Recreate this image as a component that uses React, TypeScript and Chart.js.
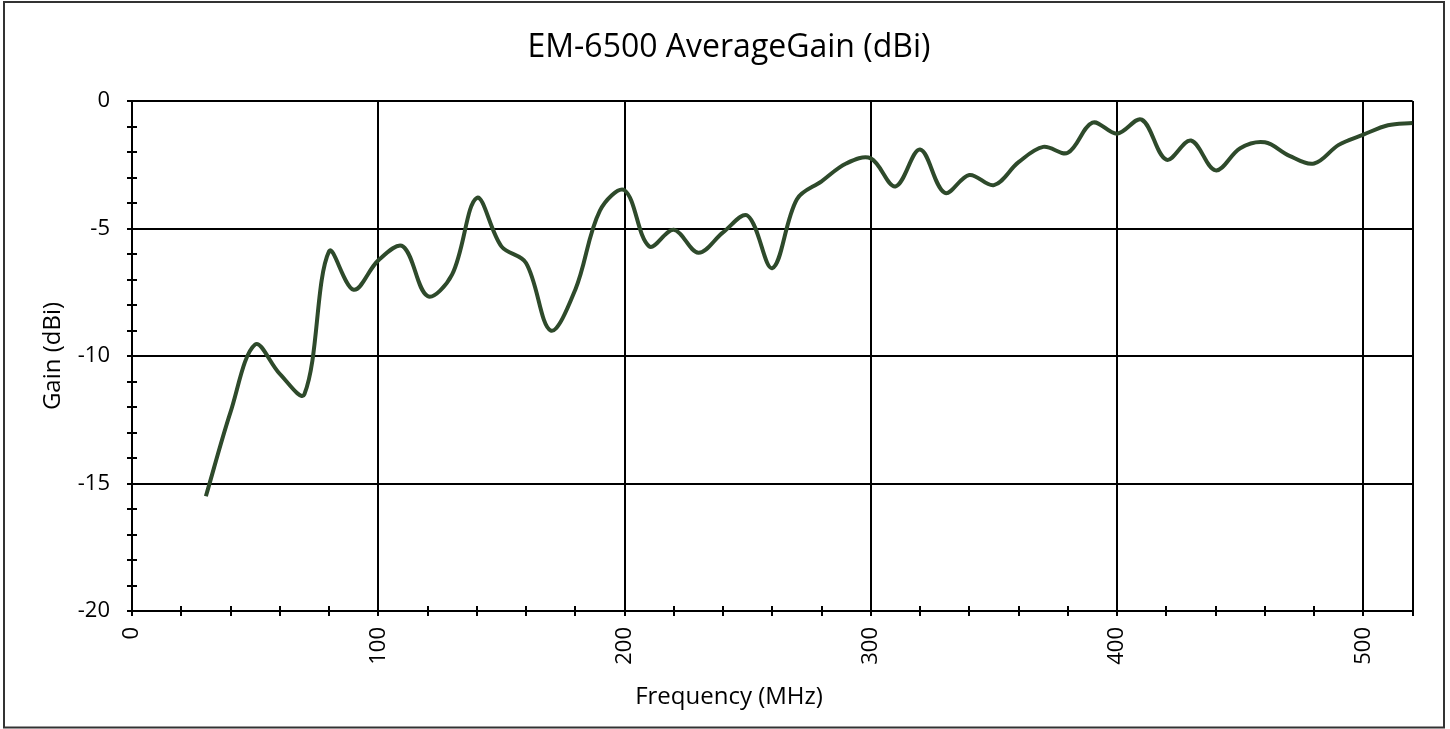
import { useEffect, useRef } from 'react';
import { Chart, registerables } from 'chart.js';

Chart.register(...registerables);

// ---- data ----
const freqMHz = [
  30, 40, 50, 60, 70, 80, 90, 100, 110, 120, 130, 140, 150, 160, 170, 180, 190, 200,
  210, 220, 230, 240, 250, 260, 270, 280, 290, 300, 310, 320, 330, 340, 350, 360,
  370, 380, 390, 400, 410, 420, 430, 440, 450, 460, 470, 480, 490, 500, 510, 520,
];
const gainDbi = [
  -15.5, -12.2, -9.55, -10.7, -11.5, -5.9, -7.4, -6.25, -5.7, -7.65, -6.8, -3.8, -5.7, -6.35, -9.0, -7.4, -4.3, -3.5,
  -5.7, -5.05, -5.95, -5.15, -4.5, -6.55, -3.85, -3.15, -2.45, -2.25, -3.35, -1.9, -3.6, -2.9, -3.3, -2.4,
  -1.8, -2.03, -0.85, -1.28, -0.73, -2.3, -1.55, -2.72, -1.85, -1.62, -2.15, -2.45, -1.72, -1.32, -0.95, -0.86,
];
const xMajorTicks = [0, 100, 200, 300, 400, 500];
const yMajorTicks = [0, -5, -10, -15, -20];
const chartTitle = 'EM-6500 AverageGain (dBi)';
const xAxisTitle = 'Frequency (MHz)';
const yAxisTitle = 'Gain (dBi)';

const FONT = "'Open Sans', 'Liberation Sans', sans-serif";

const decorPlugin = {
  id: 'decor',
  beforeDraw(chart: any) {
    const { ctx } = chart;
    ctx.save();
    ctx.strokeStyle = '#333';
    ctx.lineWidth = 2;
    ctx.strokeRect(4, 2, 1440, 725.5);
    ctx.restore();
  },
  beforeDatasetsDraw(chart: any) {
    const { ctx, chartArea, scales } = chart;
    const x = scales.x;
    const y = scales.y;
    ctx.save();
    ctx.strokeStyle = '#000';
    ctx.lineWidth = 2;
    ctx.beginPath();
    y.ticks.forEach((t: any) => {
      if (!yMajorTicks.includes(t.value)) {
        const py = Math.round(y.getPixelForValue(t.value));
        ctx.moveTo(chartArea.left, py);
        ctx.lineTo(chartArea.left + 5, py);
      }
    });
    x.ticks.forEach((t: any) => {
      if (!xMajorTicks.includes(t.value) && t.value !== 520) {
        const px = Math.round(x.getPixelForValue(t.value));
        ctx.moveTo(px, chartArea.bottom);
        ctx.lineTo(px, chartArea.bottom - 5);
      }
    });
    ctx.stroke();
    ctx.restore();
  },
};

export default function App() {
  const ref = useRef<HTMLCanvasElement>(null);

  useEffect(() => {
    if (!ref.current) return;
    const chart = new Chart(ref.current, {
      type: 'line',
      data: {
        datasets: [
          {
            data: freqMHz.map((f, i) => ({ x: f, y: gainDbi[i] })),
            borderColor: '#2E4A2B',
            borderWidth: 4,
            pointRadius: 0,
            tension: 0.35,
            fill: false,
          },
        ],
      },
      options: {
        responsive: false,
        animation: false,
        layout: { padding: { left: 8, right: 0, top: 0, bottom: 0 } },
        plugins: {
          legend: { display: false },
          tooltip: { enabled: false },
          title: {
            display: true,
            text: chartTitle,
            color: '#000',
            font: { family: FONT, size: 32, weight: 'normal' },
            padding: { top: 29, bottom: 33.6 },
          },
          subtitle: {
            display: true,
            position: 'bottom',
            text: xAxisTitle,
            color: '#000',
            font: { family: FONT, size: 24, weight: 'normal' },
            padding: { top: 0, bottom: 17.6 },
          },
        },
        scales: {
          x: {
            type: 'linear',
            min: 0,
            max: 520,
            ticks: {
              stepSize: 20,
              autoSkip: false,
              maxRotation: 90,
              minRotation: 90,
              padding: 11,
              color: '#000',
              font: { family: FONT, size: 22 },
              callback: (v: any) => (xMajorTicks.includes(v) ? String(v) : ''),
            },
            grid: {
              color: (c: any) =>
                c.tick && (xMajorTicks.includes(c.tick.value) || c.tick.value === 520)
                  ? '#000'
                  : 'rgba(0,0,0,0)',
              lineWidth: 2,
              drawTicks: true,
              tickLength: 5,
              tickColor: '#000',
              tickWidth: 2,
            },
            border: { display: true, color: '#000', width: 2 },
            afterFit: (s: any) => {
              s.height = 71.6;
            },
          },
          y: {
            type: 'linear',
            min: -20,
            max: 0,
            ticks: {
              stepSize: 1,
              autoSkip: false,
              padding: 17,
              color: '#000',
              font: { family: FONT, size: 22 },
              callback: (v: any) => (yMajorTicks.includes(v) ? String(v) : ''),
            },
            grid: {
              color: (c: any) =>
                c.tick && yMajorTicks.includes(c.tick.value) ? '#000' : 'rgba(0,0,0,0)',
              lineWidth: 2,
              drawTicks: true,
              tickLength: 5,
              tickColor: '#000',
              tickWidth: 2,
            },
            border: { display: true, color: '#000', width: 2 },
            title: {
              display: true,
              text: yAxisTitle,
              color: '#000',
              font: { family: FONT, size: 24, weight: 'normal' },
              padding: { top: 31, bottom: 0 },
            },
            afterFit: (s: any) => {
              s.width = 124;
            },
          },
          yRightSpacer: {
            type: 'linear',
            position: 'right',
            display: true,
            min: -20,
            max: 0,
            grid: { display: false, drawTicks: false },
            ticks: { display: false },
            border: { display: false },
            afterFit: (s: any) => {
              s.width = 35;
            },
          },
        },
      },
      plugins: [decorPlugin],
    } as any);
    return () => chart.destroy();
  }, []);

  return (
    <div style={{ position: 'fixed', left: 0, top: 0, width: 1450, height: 729, background: '#fff' }}>
      <canvas ref={ref} width={1450} height={729} style={{ display: 'block' }} />
    </div>
  );
}
